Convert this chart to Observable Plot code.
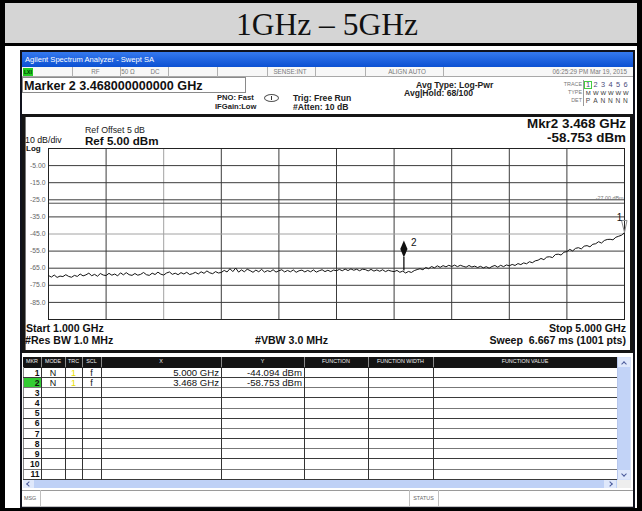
<!DOCTYPE html>
<html>
<head>
<meta charset="utf-8">
<script src="https://cdn.jsdelivr.net/npm/d3@7"></script>
<script src="https://cdn.jsdelivr.net/npm/@observablehq/plot@0.6"></script>
<style>
  html, body { margin: 0; padding: 0; background: #fff; }
  #page { position: relative; width: 642px; height: 511px; background: #000; overflow: hidden; }
  #page > div { font-family: 'Liberation Sans', Arial, sans-serif; }
</style>
</head>
<body>
<div id="page"></div>
<script>
// ---------------- DATA ----------------
const startGHz = 1.0;
const stopGHz = 5.0;
const stepGHz = 0.02;
// trace amplitude (dBm), one value every 0.02 GHz from 1.00 to 5.00 GHz
const traceDbm = [
  -69.3, -70.2, -69.0, -70.4, -69.6, -69.9, -68.8, -69.8, -70.3, -69.2,
  -69.8, -68.4, -69.5, -68.9, -67.9, -69.4, -68.6, -69.7, -68.1, -69.0,
  -69.3, -68.0, -69.1, -68.4, -69.5, -67.7, -68.9, -67.6, -68.8, -69.2,
  -68.1, -69.1, -68.6, -67.5, -68.8, -69.2, -67.9, -68.7, -67.3, -68.5,
  -69.0, -67.8, -67.2, -68.6, -67.9, -68.8, -67.6, -68.4, -67.4, -68.7,
  -68.2, -67.4, -68.4, -67.1, -68.0, -66.6, -67.7, -68.2, -67.0, -67.8,
  -67.5, -66.3, -67.2, -65.3, -67.0, -64.9, -67.3, -66.0, -67.1, -65.6,
  -66.4, -67.4, -66.1, -67.1, -65.7, -67.3, -66.4, -67.0, -65.9, -67.3,
  -66.5, -65.9, -67.2, -66.3, -67.1, -66.0, -67.4, -66.5, -66.1, -67.2,
  -66.3, -67.1, -66.0, -67.3, -66.5, -65.9, -67.0, -66.2, -67.0, -66.1,
  -66.5, -65.7, -66.5, -65.5, -66.4, -65.4, -66.2, -65.6, -66.5, -65.6,
  -65.8, -66.6, -65.7, -66.7, -66.0, -66.8, -65.9, -67.0, -66.2, -66.7,
  -67.0, -66.3, -67.4, -66.7, -67.8, -66.9, -67.5, -66.4, -65.8, -65.3,
  -65.9, -64.6, -65.3, -64.0, -64.8, -63.6, -64.5, -63.5, -64.2, -63.3,
  -64.0, -63.2, -64.1, -63.3, -63.9, -64.4, -63.4, -64.3, -63.8, -64.6,
  -63.9, -64.8, -64.1, -65.0, -64.0, -63.4, -64.4, -63.3, -64.1, -63.1,
  -63.6, -62.8, -63.4, -62.3, -62.9, -61.9, -62.4, -61.2, -61.8, -60.7,
  -60.3, -59.3, -60.0, -58.5, -58.3, -58.8, -57.0, -56.8, -57.3, -55.6,
  -55.3, -54.0, -54.9, -53.4, -53.0, -53.7, -52.1, -51.8, -52.5, -51.0,
  -50.7, -49.5, -50.3, -48.8, -48.2, -48.1, -48.4, -46.9, -46.3, -45.7,
  -44.1
];
const refLevelDbm = 5;
const dbPerDiv = 10;
const yGridDbm = [-5, -15, -25, -35, -45, -55, -65, -75, -85];
const yTickLabels = ["-5.00", "-15.0", "-25.0", "-35.0", "-45.0", "-55.0", "-65.0", "-75.0", "-85.0"];
const xGridGHz = [1.4, 1.8, 2.2, 2.6, 3.0, 3.4, 3.8, 4.2, 4.6];
const displayLineDbm = -27;
const markerNums = [1, 2];
const markerFreqGHz = [5.000, 3.468];
const markerAmpDbm = [-44.094, -58.753];
const markerTraceDbm = [-44.1, -66.7];

const traceData = traceDbm.map((v, i) => ({ f: startGHz + i * stepGHz, v }));
const markers = markerNums.map((n, i) => ({ n, f: markerFreqGHz[i], v: markerAmpDbm[i], t: markerTraceDbm[i] }));

// ---------------- CHROME (analyzer screen) ----------------
const page = document.getElementById('page');
function box(x, y, w, h, css = '') {
  const d = document.createElement('div');
  d.style.cssText = `position:absolute;left:${x}px;top:${y}px;width:${w}px;height:${h}px;box-sizing:border-box;${css}`;
  page.appendChild(d); return d;
}
function txt(x, y, s, css = '', anchor = 'start') {
  const d = document.createElement('div');
  const tx = anchor === 'end' ? '-100%' : anchor === 'middle' ? '-50%' : '0';
  d.style.cssText = `position:absolute;left:${x}px;top:${y}px;transform:translate(${tx},-50%);white-space:pre;line-height:1;font-family:'Liberation Sans',Arial,sans-serif;${css}`;
  d.textContent = s; page.appendChild(d); return d;
}

// outer document cell
box(5, 3, 632, 40, 'background:#d5d5d5');
box(5, 46, 632, 462, 'background:#fff');
txt(327, 25, '1GHz \u2013 5GHz', "font-family:'Liberation Serif','Times New Roman',serif;font-size:31.5px;color:#111", 'middle');

// window
box(20, 50, 615, 458, 'background:#10121c');
box(22, 52, 611, 15, 'background:linear-gradient(#3579ee,#0b50d2)');
txt(25, 59.5, 'Agilent Spectrum Analyzer - Swept SA', 'color:#fff;font-size:7.6px');
box(22, 67, 611, 439, 'background:#fff');

// status row
box(22, 67, 611, 10, 'background:#f7f7f7;border-bottom:1px solid #a8a8a8');
[72, 120, 168, 217, 267, 315, 365, 443].forEach(x => box(x, 67, 1, 10, 'background:#b0b0b0'));
box(23, 68, 10, 8, 'background:#22cc22');
txt(24, 72, 'LXI', 'font-size:5px;font-weight:bold;color:#030');
const stCss = 'font-size:6.3px;color:#7a7a7a';
txt(95.5, 72, 'RF', stCss, 'middle');
txt(128, 72, '50 \u03A9', stCss, 'middle');
txt(155, 72, 'DC', stCss, 'middle');
txt(290, 72, 'SENSE:INT', stCss, 'middle');
txt(407, 72, 'ALIGN AUTO', stCss, 'middle');
txt(627, 72, '06:25:29 PM Mar 19, 2015', stCss, 'end');

// marker entry box
box(22, 77, 224, 16, 'border:1px solid #8a8a8a;background:#fff');
txt(24, 85.5, 'Marker 2 3.468000000000 GHz', 'font-size:12.6px;font-weight:bold;color:#111');

// settings
const setCss = 'font-size:7.6px;font-weight:bold;color:#222';
txt(217, 98, 'PNO: Fast', setCss);
txt(215, 107, 'IFGain:Low', setCss);
box(264, 94, 15, 8, 'border:1px solid #555;border-radius:50%');
box(271, 96, 1, 4, 'background:#333');
const trgCss = 'font-size:8.6px;font-weight:bold;color:#222';
txt(293, 98, 'Trig: Free Run', trgCss);
txt(293, 107, '#Atten: 10 dB', trgCss);
txt(416, 84.5, 'Avg Type: Log-Pwr', trgCss);
txt(404, 93, 'Avg|Hold: 68/100', trgCss);

// trace info block
const lblCss = 'font-size:5.4px;color:#777';
txt(582, 84.5, 'TRACE', lblCss, 'end');
txt(582, 92.5, 'TYPE', lblCss, 'end');
txt(582, 100.5, 'DET', lblCss, 'end');
box(583, 80, 1, 26, 'background:#9a9a9a');
box(584, 80.5, 8, 8.5, 'border:1px solid #4c4');
const trCols = [588, 595.5, 603, 610.5, 618, 625.5];
['1', '2', '3', '4', '5', '6'].forEach((s, i) => txt(trCols[i], 84.8, s, 'font-size:7.4px;color:#4a4a7a', 'middle'));
['M', 'W', 'W', 'W', 'W', 'W'].forEach((s, i) => txt(trCols[i], 92.6, s, 'font-size:6px;color:#333;letter-spacing:-0.5px', 'middle'));
['P', 'A', 'N', 'N', 'N', 'N'].forEach((s, i) => txt(trCols[i], 100.6, s, 'font-size:6.6px;color:#444', 'middle'));

// graph panel
box(22, 114, 611, 239, 'border:3px solid #151515;background:#fff');
box(25, 117, 1, 233, 'background:#777');
txt(85, 130, 'Ref Offset 5 dB', 'font-size:8.8px;color:#222');
txt(85, 140.5, 'Ref 5.00 dBm', 'font-size:11.6px;font-weight:bold;color:#111');
txt(25, 139.6, '10 dB/div', 'font-size:8.8px;color:#111');
txt(26, 149, 'Log', 'font-size:8px;font-weight:bold;color:#111');
txt(626, 124, 'Mkr2 3.468 GHz', 'font-size:13.4px;font-weight:bold;color:#111', 'end');
txt(626, 138, '-58.753 dBm', 'font-size:13.4px;font-weight:bold;color:#111', 'end');
const botCss = 'font-size:10.6px;font-weight:bold;color:#111';
txt(26, 327.5, 'Start 1.000 GHz', botCss);
txt(25, 339.5, '#Res BW 1.0 MHz', botCss);
txt(255, 339.5, '#VBW 3.0 MHz', botCss);
txt(626, 327.5, 'Stop 5.000 GHz', botCss, 'end');
txt(626, 339.5, 'Sweep  6.667 ms (1001 pts)', botCss, 'end');

// marker table
const cols = [23, 41, 65, 82, 101, 221, 304, 368, 433, 617];
const colNames = ['MKR', 'MODE', 'TRC', 'SCL', 'X', 'Y', 'FUNCTION', 'FUNCTION WIDTH', 'FUNCTION VALUE'];
box(23, 357, 594, 10.5, 'background:#141414');
colNames.forEach((s, i) => {
  if (i > 0) box(cols[i], 357, 1, 10.5, 'background:#8a8a8a');
  txt((cols[i] + cols[i + 1]) / 2, 362.3, s, 'font-size:5.4px;color:#eee', 'middle');
});
const rowTop = i => 367.5 + i * 10.15;
box(23, 367, 1, 113, 'background:#888');
for (let i = 1; i <= 11; i++) box(23, rowTop(i) - 0.5, 594, 1, 'background:' + (i % 2 ? '#3a3a3a' : '#777'));
cols.slice(1, 9).forEach(x => box(x, 367, 1, 113, 'background:#333'));
box(24, rowTop(1) + 0.5, 17, 9.2, 'background:#33cc33');
for (let i = 0; i < 11; i++) {
  const yc = rowTop(i) + 5.2;
  txt(39.5, yc, String(i + 1), 'font-size:8.6px;font-weight:bold;color:#111', 'end');
  if (i < markers.length) {
    const m = markers[i];
    txt(53, yc, 'N', 'font-size:9px;color:#111', 'middle');
    txt(73.5, yc, '1', 'font-size:9px;color:#e8e000', 'middle');
    txt(91.5, yc, 'f', 'font-size:9px;color:#111', 'middle');
    txt(219, yc, m.f.toFixed(3) + ' GHz', 'font-size:9.6px;color:#111', 'end');
    txt(302, yc, m.v.toFixed(3) + ' dBm', 'font-size:9.6px;color:#111', 'end');
  }
}
// scrollbars
box(617, 357, 14, 123, 'background:#d8e3fa;border-left:1px solid #b8c8ee');
box(618, 367, 12, 103, 'background:#c2d3f7');
box(618, 358, 12, 9, 'background:#dfe8fb');
box(622, 362, 4, 4, 'border-top:1px solid #4a5a9a;border-left:1px solid #4a5a9a;transform:rotate(45deg)');
box(618, 470, 12, 9, 'background:#dfe8fb');
box(622, 472, 4, 4, 'border-bottom:1px solid #4a5a9a;border-right:1px solid #4a5a9a;transform:rotate(45deg)');
box(23, 480, 594, 8, 'background:#bfd1f6');
box(23, 480, 11, 8, 'background:#dfe8fb');
box(27, 482, 4, 4, 'border-bottom:1px solid #4a5a9a;border-left:1px solid #4a5a9a;transform:rotate(45deg)');
box(604, 480, 12, 8, 'background:#dfe8fb');
box(608, 482, 4, 4, 'border-top:1px solid #4a5a9a;border-right:1px solid #4a5a9a;transform:rotate(45deg)');
box(617, 480, 14, 8, 'background:#eeeeee');
// message row
box(22, 490, 611, 17, 'background:#fff;border-top:1px solid #9a9a9a;border-bottom:1px solid #c0c0c0');
[40, 409, 438].forEach(x => box(x, 490, 1, 17, 'background:#c0c0c0'));
txt(24, 499, 'MSG', 'font-size:5.4px;color:#666');
txt(423.5, 499, 'STATUS', 'font-size:5.4px;color:#666', 'middle');

// ---------------- PLOT ----------------
const tallDiamond = { draw(ctx) { ctx.moveTo(0, -17); ctx.lineTo(3.6, -8.5); ctx.lineTo(0, 0); ctx.lineTo(-3.6, -8.5); ctx.closePath(); } };
const thinTriangle = { draw(ctx) { ctx.moveTo(-3, -12); ctx.lineTo(2.5, -12); ctx.lineTo(0, 0); ctx.closePath(); } };

const chart = Plot.plot({
  width: 642,
  height: 511,
  marginLeft: 48,
  marginRight: 18,
  marginTop: 148,
  marginBottom: 192,
  x: { domain: [startGHz, stopGHz], axis: null },
  y: { domain: [refLevelDbm - 10 * dbPerDiv, refLevelDbm], axis: null },
  color: { type: 'identity' },
  style: { background: 'transparent', fontFamily: "'Liberation Sans', Arial, sans-serif", color: '#666', position: 'absolute', left: '0px', top: '0px' },
  marks: [
    Plot.ruleX(xGridGHz, { x: d => d, stroke: d => d === 1.8 ? '#a2a2a2' : '#3c3c3c' }),
    Plot.ruleY(yGridDbm, { y: d => d, stroke: d => d === -45 ? '#a2a2a2' : '#3c3c3c' }),
    Plot.ruleY([displayLineDbm], { y: d => d, stroke: '#505050' }),
    Plot.frame({ stroke: '#222' }),
    Plot.text([displayLineDbm], { x: () => stopGHz, y: d => d, text: d => d.toFixed(2) + ' dBm', textAnchor: 'end', dx: -1, dy: -4.5, fontSize: 5.4, fill: '#777' }),
    Plot.axisY(yGridDbm, { tickSize: 0, tickPadding: 3, fontSize: 6.8, label: null, tickFormat: d => yTickLabels[yGridDbm.indexOf(d)] }),
    Plot.line(traceData, { x: 'f', y: 'v', stroke: '#141414', strokeWidth: 1 }),
    Plot.ruleX(markers.filter(m => m.n === 2), { x: 'f', y1: 'v', y2: 't', stroke: '#111', strokeWidth: 1.3 }),
    Plot.dot(markers.filter(m => m.n === 2), { x: 'f', y: 'v', symbol: tallDiamond, fill: '#111', stroke: 'none' }),
    Plot.text(markers.filter(m => m.n === 2), { x: 'f', y: 'v', text: d => String(d.n), dx: 10, dy: -15, fontSize: 10, fill: '#111' }),
    Plot.dot(markers.filter(m => m.n === 1), { x: 'f', y: 'v', symbol: thinTriangle, fill: 'none', stroke: '#8a8a8a', strokeWidth: 1 }),
    Plot.text(markers.filter(m => m.n === 1), { x: 'f', y: 'v', text: d => String(d.n), dx: -5, dy: -15, fontSize: 10, fill: '#111' })
  ]
});
chart.style.zIndex = '5';
page.appendChild(chart);
</script>
</body>
</html>
